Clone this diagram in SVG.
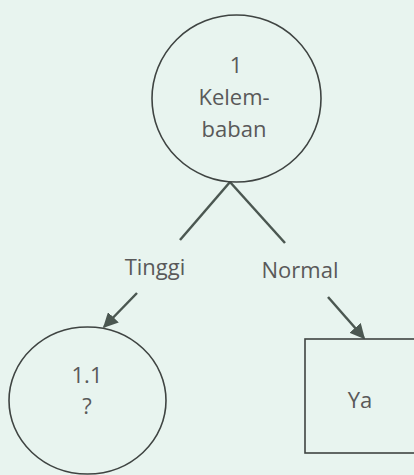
<svg xmlns="http://www.w3.org/2000/svg" width="414" height="475" viewBox="0 0 414 475">
  <defs>
    <style>
      .node { fill: none; stroke: #3f4442; stroke-width: 1.6; }
      .lbl { font-family: "Open Sans", "Liberation Sans", sans-serif; font-size: 22px; fill: #595959; text-anchor: middle; }
      .edge { stroke: #4b5751; stroke-width: 2.5; fill: none; }
    </style>
    <marker id="arr" viewBox="0 0 10 10" refX="9" refY="5" markerWidth="6" markerHeight="6" orient="auto" markerUnits="strokeWidth">
      <path d="M0,0 L10,5 L0,10 z" fill="#4b5751"/>
    </marker>
  </defs>
  <rect x="0" y="0" width="414" height="475" fill="#e8f4ef"/>

  <g id="connectors">
    <line class="edge" x1="180" y1="240" x2="230" y2="182"/>
    <line class="edge" x1="230" y1="182" x2="285" y2="243"/>
    <line class="edge" x1="137" y1="293" x2="104" y2="327" marker-end="url(#arr)"/>
    <line class="edge" x1="328" y1="297" x2="364" y2="338" marker-end="url(#arr)"/>
    <text class="lbl" x="155" y="275">Tinggi</text>
    <text class="lbl" x="300" y="278">Normal</text>
  </g>

  <g id="node-1">
    <ellipse class="node" cx="236.5" cy="98.5" rx="84.5" ry="83.5"/>
    <text class="lbl" x="236" y="73">1</text>
    <text class="lbl" x="234" y="105">Kelem-</text>
    <text class="lbl" x="234" y="137">baban</text>
  </g>

  <g id="node-1-1">
    <ellipse class="node" cx="87.5" cy="400.5" rx="78.5" ry="73.5"/>
    <text class="lbl" x="87" y="383">1.1</text>
    <text class="lbl" x="87" y="414">?</text>
  </g>

  <g id="node-ya">
    <rect class="node" x="305" y="339" width="120" height="114"/>
    <text class="lbl" x="360" y="408">Ya</text>
  </g>
</svg>
